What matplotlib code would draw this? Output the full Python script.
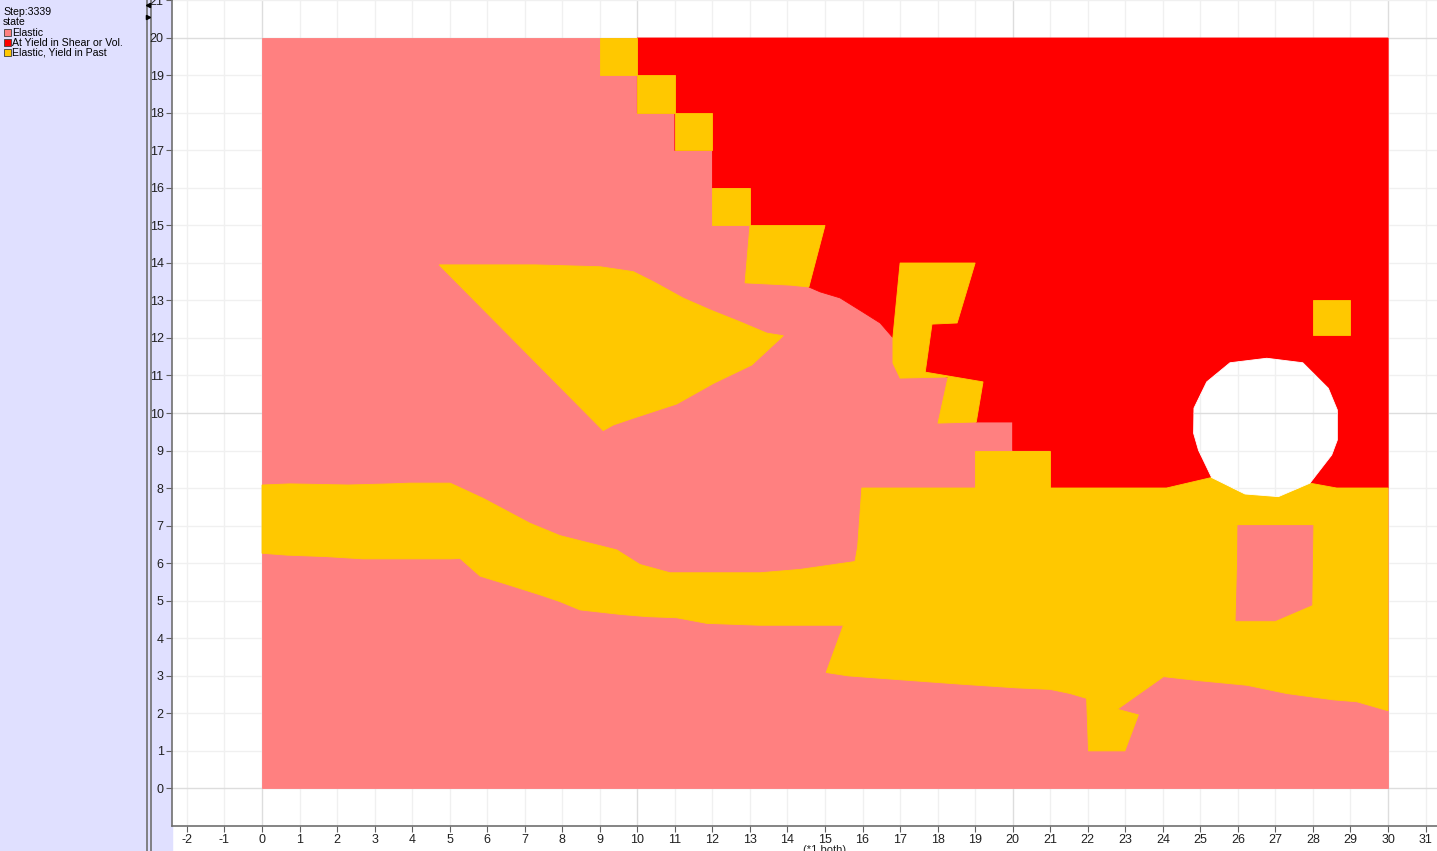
import matplotlib
matplotlib.use("Agg")
import matplotlib.pyplot as plt
from matplotlib.patches import Rectangle, Polygon
from matplotlib.lines import Line2D

plt.rcParams['font.family'] = ['Liberation Sans', 'DejaVu Sans']
plt.rcParams['axes.unicode_minus'] = False

# legend / state info
step = 3339
states = ["Elastic", "At Yield in Shear or Vol.", "Elastic, Yield in Past"]
state_colors = ["#FF8080", "#FF0000", "#FFC800"]

# model outline, elastic everywhere unless painted over
model_outline = [(0, 0), (30, 0), (30, 20), (0, 20)]

# zone at yield (upper right)
yield_zone = [(10, 20), (30, 20), (30, 8), (21, 8), (21, 9), (20, 9), (20, 9.76),
              (19.03, 9.76), (18.6, 10.88), (17.67, 11.09), (17.0, 11.95), (16.79, 12.03),
              (16.47, 12.4), (16.01, 12.69), (15.4, 13.07), (14.87, 13.23), (14.57, 13.36),
              (15.0, 15.0), (13, 15), (13, 16), (12, 16), (12, 17), (11, 17), (11, 18),
              (10, 18)]

# yielded in past - main band
band_top = [(0, 8.08), (0.75, 8.11), (2.30, 8.08), (3.41, 8.11), (3.94, 8.13), (5.01, 8.13),
            (5.19, 8.05), (5.9, 7.72), (7.14, 7.06), (7.94, 6.73), (9.45, 6.35), (10.07, 5.96),
            (10.87, 5.74), (13.27, 5.74), (14.34, 5.83), (15.80, 6.04), (15.87, 6.44),
            (15.98, 8.0), (24.1, 8.0), (25.30, 8.28), (27.92, 8.13), (28.63, 8.0), (30, 8)]
band_bottom = [(30, 2.06), (29.17, 2.30), (28.55, 2.35), (27.30, 2.52), (26.24, 2.74),
               (24.99, 2.86), (24.02, 2.97), (22.79, 2.10), (23.35, 1.95), (22.99, 0.99),
               (22.02, 0.99), (21.97, 2.39), (21.53, 2.52), (21.0, 2.63), (20.11, 2.67),
               (18.6, 2.77), (17.09, 2.88), (15.62, 2.99), (15.03, 3.08), (15.49, 4.34),
               (13.27, 4.34), (11.85, 4.39), (11.05, 4.54), (10.25, 4.57), (9.54, 4.63),
               (8.47, 4.75), (7.94, 4.97), (7.41, 5.15), (6.43, 5.46), (5.81, 5.65),
               (5.28, 6.12), (5.01, 6.11), (2.70, 6.11), (1.72, 6.17), (0.66, 6.21), (0, 6.26)]

# yielded in past - smaller patches
past_steps = [
    [(9, 19), (10, 19), (10, 20), (9, 20)],
    [(10, 18), (11, 18), (11, 19), (10, 19)],
    [(11, 17), (12, 17), (12, 18), (11, 18)],
    [(12, 15), (13, 15), (13, 16), (12, 16)],
    [(13, 15), (15, 15), (14.57, 13.36), (14.07, 13.41), (12.87, 13.47)],
    [(17.0, 14.0), (19.0, 14.0), (18.52, 12.4), (17.85, 12.37), (17.67, 11.09),
     (19.21, 10.83), (19.03, 9.76), (18.01, 9.73), (18.28, 10.96), (17.0, 10.93),
     (16.81, 11.33), (16.81, 12.03)],
    [(19, 8), (21, 8), (21, 9), (19, 9)],
    [(28, 12.08), (29, 12.08), (29, 13), (28, 13)],
]
past_wedge = [(4.72, 13.95), (7.27, 13.95), (9.01, 13.90), (9.89, 13.77), (10.43, 13.50),
              (11.23, 13.06), (11.94, 12.75), (12.74, 12.43), (13.45, 12.13), (13.89, 12.06),
              (13.05, 11.28), (12.03, 10.79), (11.05, 10.24), (9.89, 9.86), (9.36, 9.68),
              (9.09, 9.53)]

# elastic island inside the band
elastic_island = [(26.0, 7.0), (28.0, 7.0), (27.97, 4.88), (26.99, 4.46), (25.95, 4.46), (25.99, 6.0)]

# tunnel (empty)
tunnel = [(25.79, 11.34), (26.77, 11.46), (27.73, 11.34), (28.41, 10.66), (28.65, 10.08),
          (28.65, 9.28), (28.50, 8.88), (27.92, 8.13), (27.08, 7.77), (26.19, 7.84),
          (25.30, 8.28), (24.95, 9.01), (24.82, 9.46), (24.83, 10.13), (25.17, 10.83)]

xticks = list(range(-2, 32))
yticks = list(range(0, 22))

W, H = 1437, 851
fig = plt.figure(figsize=(W / 100, H / 100), dpi=100)
lav = "#E0E0FF"
fig.patch.set_facecolor("white")
fig.patches.append(Rectangle((0, 0), 172 / W, 1, transform=fig.transFigure, color=lav, zorder=-5))
for xp in (146.5, 150.5):
    fig.add_artist(Line2D([xp / W, xp / W], [0, 1], color="#707070", lw=1.2, zorder=-4))
fig.add_artist(Line2D([148 / W], [1 - 5 / H], marker="<", ms=3, color="black", zorder=-4))
fig.add_artist(Line2D([148 / W], [1 - 17 / H], marker=">", ms=3, color="black", zorder=-4))

ax = fig.add_axes([172 / W, 25 / H, 1 - 172 / W, 1 - 25 / H])
ax.set_facecolor("white")
ax.set_xlim(-2.398, 31.305)
ax.set_ylim(-1.013, 21.013)


def grid_lines(clip=None, z=0.5):
    out = []
    for xv in xticks:
        c = "#DDDDDD" if xv % 10 == 0 else "#F0F0F0"
        out.append(ax.axvline(xv, color=c, lw=1, zorder=z))
    for yv in yticks:
        c = "#DDDDDD" if yv % 10 == 0 else "#F0F0F0"
        out.append(ax.axhline(yv, color=c, lw=1, zorder=z))
    if clip is not None:
        for ln in out:
            ln.set_clip_path(clip)


grid_lines()


def paint(poly, color, z):
    p = Polygon(poly, closed=True, facecolor=color, edgecolor=color, lw=0.6, zorder=z)
    ax.add_patch(p)
    return p


paint(model_outline, state_colors[0], 1)
paint(yield_zone, state_colors[1], 2)
paint(band_top + band_bottom, state_colors[2], 3)
for blk in past_steps:
    paint(blk, state_colors[2], 3)
paint(past_wedge, state_colors[2], 3)
paint(elastic_island, state_colors[0], 4)
hole = Polygon(tunnel, closed=True, facecolor="white", edgecolor="white", lw=0.6, zorder=5)
ax.add_patch(hole)
grid_lines(clip=hole, z=6)

ax.set_xticks(xticks)
ax.set_yticks(yticks)
ax.tick_params(length=4, color="#606060", labelsize=9, labelcolor="#202020", pad=2)
for s in ("top", "right"):
    ax.spines[s].set_visible(False)
for s in ("left", "bottom"):
    ax.spines[s].set_color("#707070")
    ax.spines[s].set_linewidth(1.2)

fig.text(825 / W, 1 - 845 / H, "(*1 both)", ha="center", va="top", fontsize=8, color="#202020")

# legend panel
fs = 7.6
fig.text(3 / W, 1 - 15 / H, "Step:%d" % step, fontsize=fs, va="baseline")
fig.text(3 / W, 1 - 25 / H, "state", fontsize=fs, va="baseline")
for i, (lab, col) in enumerate(zip(states, state_colors)):
    top = 29 + 10 * i
    fig.patches.append(Rectangle((3.5 / W, 1 - (top + 7) / H), 7 / W, 7 / H,
                                 transform=fig.transFigure, facecolor=col,
                                 edgecolor="#404040", lw=0.6))
    fig.text(12.5 / W, 1 - (top + 6.5) / H, lab, fontsize=fs, va="baseline")

fig.savefig("out.png", dpi=100)
